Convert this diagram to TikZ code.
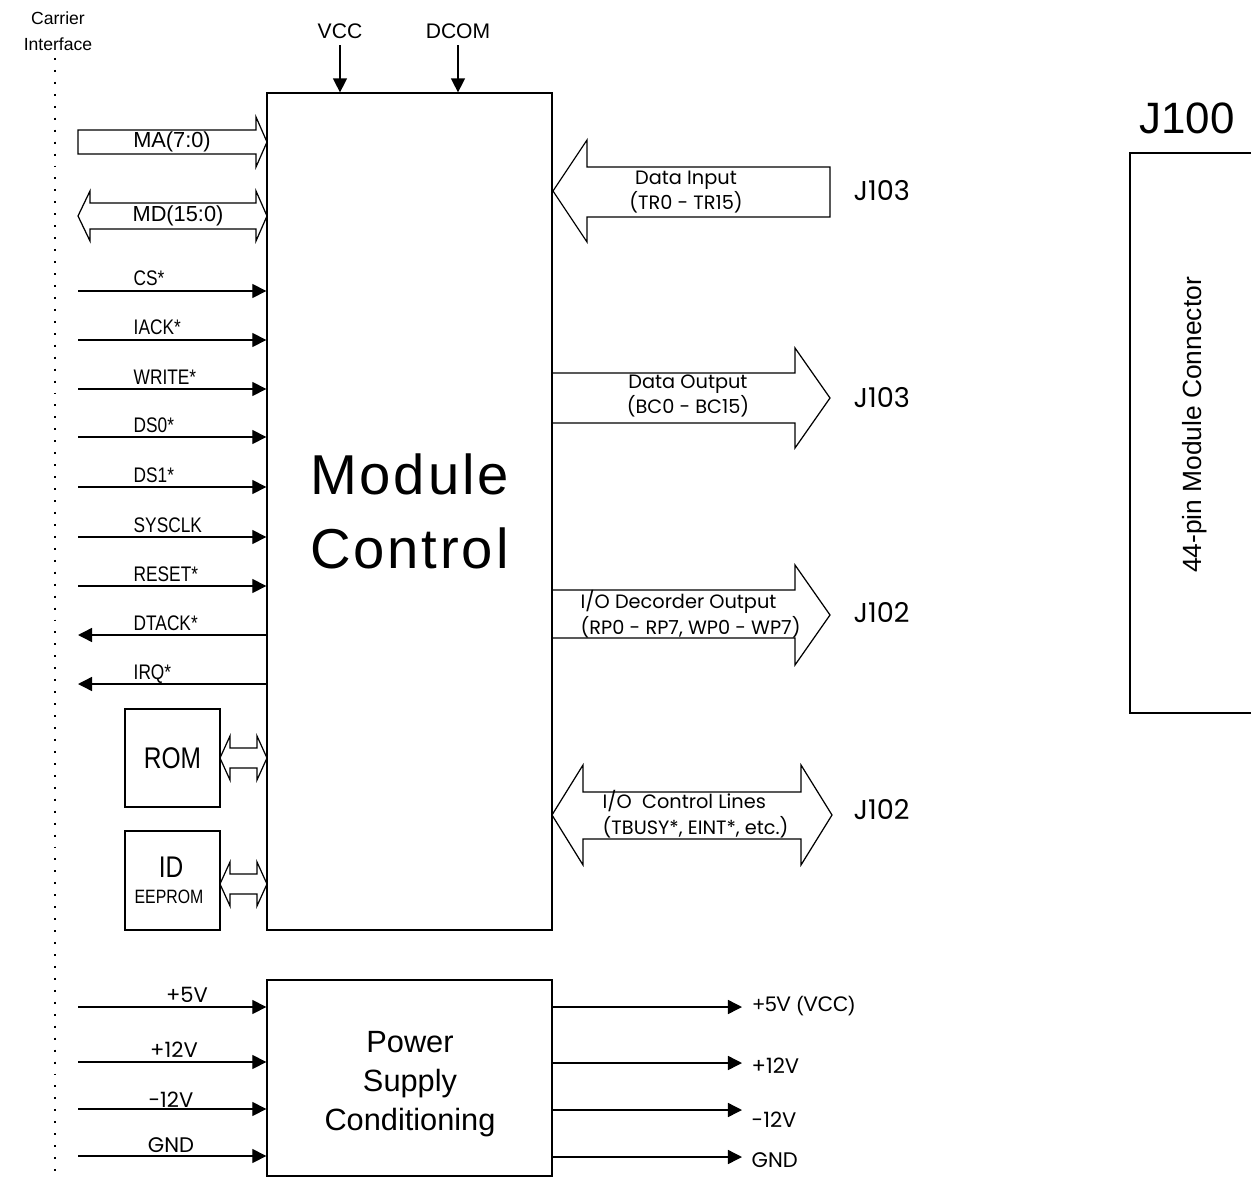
\documentclass[tikz,border=0pt]{standalone}
\usepackage{fontspec}
\setmainfont{Liberation Sans}
\newfontfamily\narrowfont[FakeStretch=0.82]{Liberation Sans}
\newfontfamily\gothicfont{Poppins}
\newfontfamily\spacedfont[LetterSpace=5]{Liberation Sans}
\usetikzlibrary{arrows.meta,positioning}
\tikzset{
    every node/.style={inner sep=0pt},
    blockbox/.style={draw, line width=0.8pt, align=center},
    sigline/.style={line width=0.8pt, -{Triangle[length=8pt,width=8pt]}},
    busarrow/.style={draw, line width=0.7pt},
    siglabel/.style={anchor=base west, font=\narrowfont\fontsize{12}{14}\selectfont},
    buslabel/.style={align=center, font=\gothicfont\fontsize{11}{14.6}\selectfont},
    jlabel/.style={anchor=west, font=\gothicfont\fontsize{15.5}{18}\selectfont},
    pwrlabel/.style={font=\gothicfont\fontsize{12}{14}\selectfont},
}
\begin{document}
\begin{tikzpicture}[x=0.02cm, y=-0.02cm, line width=0.8pt]
    \useasboundingbox (0,0) rectangle (1251,1179);
    \clip (0,0) rectangle (1251,1179);

    % Carrier interface
    \node[align=center, font=\fontsize{10}{14.8}\selectfont] (carrier) at (58,31) {Carrier\\Interface};
    \draw[line width=1.1pt, dash pattern=on 1.1pt off 5.7pt] (55,58) -- (55,1176);

    % Module control block
    \node[blockbox, minimum width=5.7cm, minimum height=16.74cm,
          font=\spacedfont\fontsize{32}{42.5}\selectfont] (ctrl) at (409.5,511.5) {Module\\Control};
    \node[font=\fontsize{12}{14}\selectfont] (vcc) at (340,31) {VCC};
    \node[font=\fontsize{12}{14}\selectfont] (dcom) at (458,31) {DCOM};
    \draw[sigline] ([yshift=-3.5pt]vcc.south) -- (vcc.south |- ctrl.north);
    \draw[sigline] ([yshift=-3.5pt]dcom.south) -- (dcom.south |- ctrl.north);

    % Address and data buses
    \draw[busarrow] (78,130) -- (256,130) -- (256,117) -- (267,142) -- (256,167) -- (256,154) -- (78,154) -- cycle;
    \node[font=\fontsize{12.4}{14}\selectfont] (ma) at (172,142) {MA(7:0)};
    \draw[busarrow] (78,216) -- (90,191) -- (90,203) -- (256,203) -- (256,191) -- (267,216) -- (256,241) -- (256,229) -- (90,229) -- (90,241) -- cycle;
    \node[font=\fontsize{12.4}{14}\selectfont] (md) at (178,216) {MD(15:0)};

    % Control signals
    \foreach \y/\sig in {291/CS*,340/IACK*,389/WRITE*,437/DS0*,487/DS1*,537/SYSCLK,586/RESET*}{
        \coordinate (in\y) at (78,\y);
        \draw[sigline] (in\y) -- (in\y -| ctrl.west);
        \node[siglabel] (lbl\y) at (133,\y-5) {\sig};
    }
    \foreach \y/\sig in {635/DTACK*,684/IRQ*}{
        \coordinate (out\y) at (78,\y);
        \draw[sigline] (out\y -| ctrl.west) -- (out\y);
        \node[siglabel] (lbl\y) at (133,\y-5) {\sig};
    }

    % ROM and ID EEPROM
    \node[blockbox, minimum width=1.9cm, minimum height=1.96cm,
          font=\narrowfont\fontsize{17}{20}\selectfont] (rom) at (172.5,758) {ROM};
    \node[blockbox, minimum width=1.9cm, minimum height=1.98cm] (idrom) at (172.5,880.5) {};
    \node[font=\narrowfont\fontsize{17}{20}\selectfont] (idtxt) at (171,867) {ID};
    \node[font=\narrowfont\fontsize{11}{13}\selectfont] (eeprom) at (169,897) {EEPROM};
    \draw[busarrow] (220,758) -- (230,736) -- (230,748) -- (257,748) -- (257,736) -- (267,758) -- (257,780) -- (257,768) -- (230,768) -- (230,780) -- cycle;
    \draw[busarrow] (220,884) -- (230,862) -- (230,874) -- (257,874) -- (257,862) -- (267,884) -- (257,906) -- (257,894) -- (230,894) -- (230,906) -- cycle;

    % Module side buses
    \draw[busarrow] (553,191) -- (587,140) -- (587,167) -- (830,167) -- (830,217) -- (587,217) -- (587,242) -- cycle;
    \node[buslabel] (din) at (686,192) {Data Input\\(TR0 - TR15)};
    \node[jlabel] (jin) at (853,191) {J103};

    \draw[busarrow] (552,373) -- (795,373) -- (795,348) -- (830,398) -- (795,448) -- (795,423) -- (552,423) -- cycle;
    \node[buslabel] (dout) at (688,396) {Data Output\\(BC0 - BC15)};
    \node[jlabel] (jout) at (853,398) {J103};

    \draw[busarrow] (552,590) -- (795,590) -- (795,565) -- (830,615) -- (795,665) -- (795,638) -- (552,638) -- cycle;
    \node[buslabel, align=left, anchor=west] (iodec) at (580,614) {I/O Decorder Output\\(RP0 - RP7, WP0 - WP7)};
    \node[jlabel] (jdec) at (853,613) {J102};

    \draw[busarrow] (552,815) -- (583,765) -- (583,792) -- (801,792) -- (801,765) -- (832,815) -- (801,865) -- (801,839) -- (583,839) -- (583,865) -- cycle;
    \node[buslabel, align=left, anchor=west] (ioctl) at (602,814) {I/O\ \ Control Lines\\(TBUSY*, EINT*, etc.)};
    \node[jlabel] (jctl) at (853,810) {J102};

    % Module connector
    \node[font=\fontsize{25}{30}\selectfont] (j100) at (1187,118) {J100};
    \node[draw, minimum width=2.8cm, minimum height=11.2cm] (conn) at (1200,433) {};
    \node[rotate=90, font=\fontsize{15}{18}\selectfont] (conntxt) at (1195,425) {44-pin Module Connector};

    % Power supply
    \node[blockbox, minimum width=5.7cm, minimum height=3.92cm] (psu) at (409.5,1078) {};
    \node[align=center, font=\fontsize{17.5}{22}\selectfont] (psutxt) at (410,1084) {Power\\Supply\\Conditioning};
    \foreach \y/\v/\lx/\by in {1007/+5V/187/1002,1062/+12V/174/1057,1109/-12V/171/1107,1156/GND/171/1152}{
        \coordinate (pin\y) at (78,\y);
        \draw[sigline] (pin\y) -- (pin\y -| psu.west);
        \node[pwrlabel, anchor=base] (pl\y) at (\lx,\by) {\v};
    }
    \coordinate (pout1007) at (742,1007);
    \draw[sigline] (pout1007 -| psu.east) -- (pout1007);
    \node[anchor=west, font=\fontsize{12}{14}\selectfont] (po1007) at (752,1006) {+5V (VCC)};
    \foreach \y/\v/\ly in {1063/+12V/1066,1110/-12V/1120,1157/GND/1160}{
        \coordinate (pout\y) at (742,\y);
        \draw[sigline] (pout\y -| psu.east) -- (pout\y);
        \node[pwrlabel, anchor=west] (po\y) at (751,\ly) {\v};
    }
\end{tikzpicture}
\end{document}
